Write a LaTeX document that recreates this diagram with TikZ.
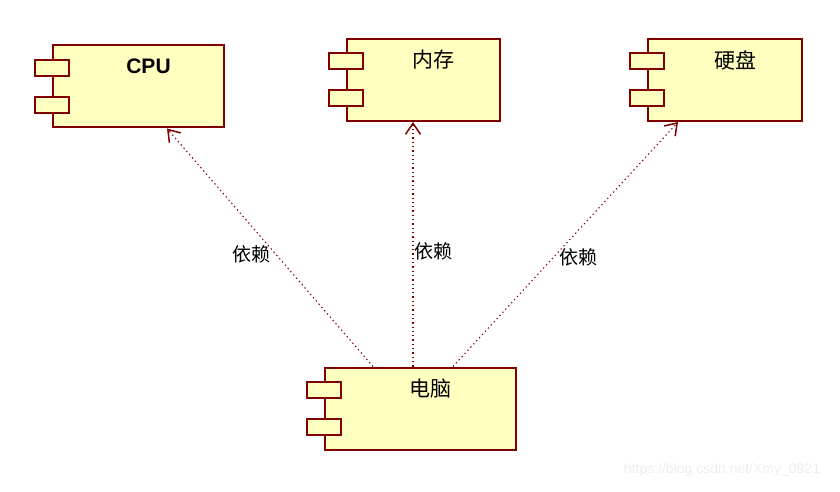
\documentclass[tikz,border=0pt]{standalone}
\usepackage{fontspec}
\setmainfont{Liberation Sans}
\newfontfamily\cjk{Noto Sans CJK SC}
\usetikzlibrary{arrows.meta,positioning,calc}
\definecolor{edge}{RGB}{128,0,0}
\definecolor{compfill}{RGB}{255,255,192}
\tikzset{
  comp/.style={draw=edge,fill=compfill,line width=2pt,inner sep=0pt,minimum height=82pt},
  port/.style={draw=edge,fill=compfill,line width=2pt,inner sep=0pt,minimum width=34pt,minimum height=16pt},
  title/.style={font=\fontsize{21}{24}\selectfont\cjk,inner sep=0pt},
  dep/.style={draw=edge,line width=1.1pt,dash pattern=on 1.3pt off 3pt,
    -{Straight Barb[length=11pt,width=15pt,line width=1.5pt]}},
  lbl/.style={font=\fontsize{19}{22}\selectfont\cjk,inner sep=1pt},
  wm/.style={font=\fontsize{14}{16}\selectfont,text=black!7,inner sep=0pt},
}
\begin{document}
\begin{tikzpicture}[x=1pt,y=-1pt]
\useasboundingbox (0,0) rectangle (840,492);
% components: box, two ports on the left edge, title
\foreach \n/\x/\y/\w/\t in {cpu/138.5/86.5/171/{\normalfont\bfseries CPU},
    mem/423.5/80/153/内存, disk/725/80/154/硬盘, pc/420.5/408.5/191/电脑} {
  \node[comp,minimum width=\w pt] (\n) at (\x,\y) {};
  \node[port] (\n-p1) at ([yshift=18.5pt]\n.west) {};
  \node[port] (\n-p2) at ([yshift=-18.5pt]\n.west) {};
  \node[title] (\n-t) at ([xshift=10pt,yshift=-22pt]\n.north) {\t};
}
% dependencies
\draw[dep] ([xshift=-47.5pt]pc.north) -- node[lbl,pos=0.47,left=4pt] (d1) {依赖} ([xshift=28.5pt]cpu.south);
\draw[dep] ([xshift=-7.5pt]pc.north) -- node[lbl,pos=0.47,right=0pt] (d2) {依赖} ([xshift=-10.5pt]mem.south);
\draw[dep] ([xshift=32.5pt]pc.north) -- node[lbl,pos=0.445,right=5pt] (d3) {依赖} ([xshift=-47pt]disk.south);
\node[wm] (url) at (722,470) {https://blog.csdn.net/Xmy\_0921};
\end{tikzpicture}
\end{document}
